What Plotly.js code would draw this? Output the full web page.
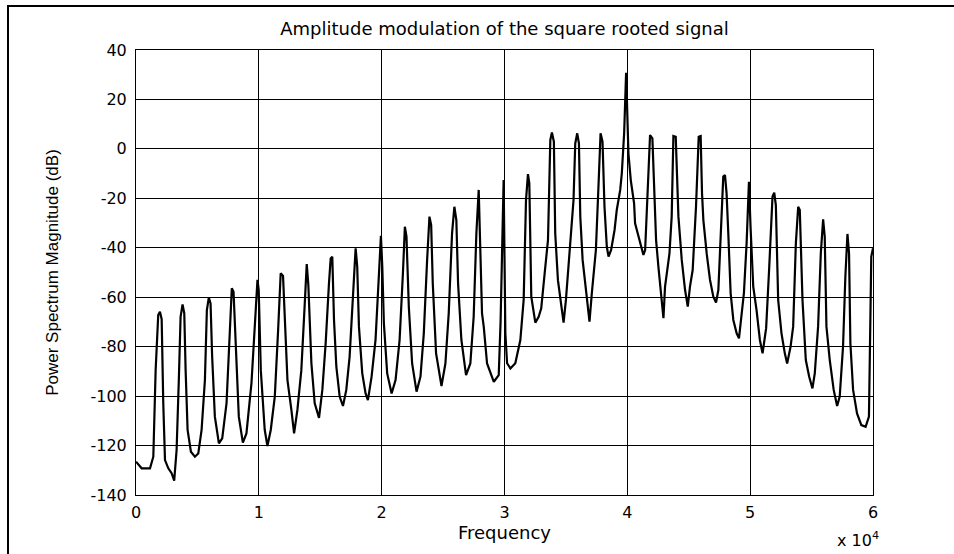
<!DOCTYPE html>
<html>
<head>
<meta charset="utf-8">
<script src="https://cdn.plot.ly/plotly-3.0.1.min.js"></script>
<style>
  html, body { margin: 0; padding: 0; background: #ffffff; }
  #frame { position: absolute; left: 7px; top: 5px; width: 960px; height: 560px;
           border-left: 2px solid #000; border-top: 2px solid #000; pointer-events: none; z-index: 5; }
  #chart { position: absolute; left: 0; top: 0; width: 954px; height: 554px; }
</style>
</head>
<body>
<div id="chart"></div>
<div id="frame"></div>
<script>
// Frequency samples (Hz)
const freq = [
  0, 460, 1140, 1410, 1600, 1810, 1950, 2090, 2220, 2360, 2630, 2900, 3110,
  3305, 3495, 3630, 3790, 3930, 4040, 4200, 4470, 4795, 5070,
  5340, 5610, 5770, 5930, 6070, 6200, 6420, 6750, 7020,
  7370, 7640, 7800, 7940, 8130, 8370, 8700, 8990,
  9400, 9670, 9890, 9990, 10160, 10480, 10700, 10970,
  11300, 11570, 11780, 11970, 12160, 12330, 12650, 12870, 13140,
  13460, 13740, 13900, 14030, 14280, 14550, 14900,
  15170, 15440, 15710, 15850, 15980, 16120, 16310, 16580, 16850, 17120,
  17390, 17660, 17880, 18010, 18150, 18420, 18690, 18880, 19180,
  19500, 19770, 19940, 20050, 20180, 20450, 20810, 21130,
  21460, 21730, 21890, 22020, 22210, 22480, 22840, 23160,
  23430, 23700, 23890, 24030, 24160, 24430, 24870, 25190,
  25460, 25730, 25920, 26080, 26220, 26490, 26870, 27220,
  27490, 27710, 27900, 28170, 28310, 28580, 29130, 29530,
  29680, 29930, 30070, 30210, 30480, 30880, 31290,
  31560, 31750, 31910, 32020, 32180, 32370, 32510, 32780, 32990,
  33270, 33540, 33730, 33860, 34020, 34130, 34350, 34620, 34810, 35000,
  35270, 35620, 35760, 35920, 36060, 36170, 36360, 36630, 36920, 37110,
  37440, 37660, 37820, 37980, 38140, 38330, 38470, 38680, 38960,
  39140, 39420, 39550, 39740, 39900, 40090, 40280, 40550, 40630, 40910, 41180, 41310, 41450,
  41580, 41720, 41850, 42040, 42180, 42340, 42530, 42720, 42940, 43070,
  43430, 43610, 43750, 43940, 44160, 44430, 44700, 44920, 45100, 45320,
  45590, 45810, 45970, 46080, 46190, 46460, 46730, 47000, 47220, 47410,
  47540, 47680, 47810, 47950, 48080, 48220, 48410, 48630, 48900, 49090, 49250,
  49490, 49710, 49900, 50030, 50250, 50520, 50790, 51010, 51300,
  51550, 51820, 51960, 52090, 52280, 52550, 52820, 53010, 53290,
  53500, 53720, 53910, 54040, 54260, 54530, 54800, 55070, 55260,
  55530, 55750, 55940, 56070, 56210, 56480, 56800, 57080, 57290,
  57560, 57750, 57920, 58050, 58160, 58380, 58700, 59050, 59400, 59670,
  59780, 59860, 60000
];
// Power spectrum magnitude (dB)
const magnitudeDb = [
  -126.5, -129.2, -129.2, -124.5, -89.4, -67.2, -65.9, -68.9, -102.9, -125.9, -129.2, -131.2, -134.2,
  -121.8, -92.1, -67.9, -62.9, -66.5, -89.5, -113.7, -122.5, -124.5, -123.2,
  -113.7, -93.5, -65.2, -60.1, -62.5, -84.1, -108.3, -119.1, -117.1,
  -102.9, -76.0, -56.4, -57.8, -80.0, -108.3, -118.8, -115.1,
  -94.8, -69.2, -53.0, -57.1, -89.5, -113.7, -120.2, -113.7,
  -100.2, -73.3, -50.3, -51.4, -76.0, -93.5, -105.6, -115.1, -105.6,
  -89.5, -62.5, -46.6, -55.0, -86.8, -102.9, -108.8,
  -97.5, -78.7, -54.4, -44.3, -43.6, -69.2, -88.1, -100.2, -104.0, -97.5,
  -84.1, -58.4, -40.2, -47.6, -71.9, -90.8, -98.9, -101.6, -92.1,
  -77.3, -47.6, -35.2, -47.6, -70.6, -90.8, -98.9, -93.5,
  -77.3, -50.3, -31.5, -35.5, -63.8, -86.8, -98.2, -92.1,
  -74.6, -44.9, -27.4, -30.8, -54.4, -82.7, -95.9, -86.8,
  -66.5, -34.2, -23.4, -28.8, -54.4, -77.3, -91.5, -86.8,
  -67.9, -34.2, -16.6, -66.5, -71.9, -86.8, -94.2, -91.5,
  -70.0, -12.6, -74.6, -86.7, -88.8, -86.7, -77.3,
  -61.1, -20.7, -10.2, -13.9, -59.8, -66.5, -70.3, -67.9, -64.5,
  -50.3, -36.9, 3.6, 6.6, 2.9, -34.2, -53.1, -62.5, -70.3, -61.1,
  -44.9, -20.7, 2.2, 6.3, 2.2, -27.4, -44.9, -58.4, -69.9, -58.4,
  -40.9, -13.9, 6.3, 2.9, -23.4, -39.6, -43.6, -40.9, -32.8,
  -24.7, -16.6, -9.9, 6.3, 30.8, -1.8, -12.6, -22.0, -30.1, -35.5, -41.6, -42.9, -40.9,
  -24.7, -4.5, 5.6, 4.3, -18.0, -36.9, -47.7, -58.4, -68.5, -55.7,
  -42.3, -27.4, 5.2, 4.9, -27.4, -44.9, -57.1, -63.8, -55.7, -49.0,
  -23.4, 4.9, 5.2, -18.0, -28.8, -42.3, -53.0, -59.8, -62.2, -57.1,
  -39.6, -20.7, -11.2, -10.6, -18.0, -34.2, -58.4, -69.2, -74.6, -76.6, -69.2,
  -58.4, -38.2, -13.3, -31.5, -55.7, -65.2, -77.3, -82.7, -72.5,
  -48.0, -19.3, -17.7, -22.7, -61.1, -74.6, -82.7, -86.8, -80.0,
  -71.9, -38.2, -23.4, -24.7, -61.1, -85.4, -92.1, -96.9, -90.8,
  -71.9, -42.3, -28.5, -35.5, -71.9, -85.4, -97.5, -104.0, -100.2,
  -80.0, -51.7, -34.4, -42.3, -78.7, -97.5, -107.0, -111.7, -112.4, -108.3,
  -71.9, -43.6, -40.2
];
const xTickVals = [0, 10000, 20000, 30000, 40000, 50000, 60000];
const xTickText = ['0', '1', '2', '3', '4', '5', '6'];
const yTickVals = [-140, -120, -100, -80, -60, -40, -20, 0, 20, 40];
const yTickText = ['-140', '-120', '-100', '-80', '-60', '-40', '-20', '0', '20', '40'];

const wideFont = '"DejaVu Sans", "Liberation Sans", Arial, sans-serif';
const narrowFont = '"Liberation Sans", Arial, sans-serif';

const trace = {
  x: freq,
  y: magnitudeDb,
  type: 'scatter',
  mode: 'lines',
  line: { color: '#000000', width: 2.2 },
  hoverinfo: 'x+y'
};

const axisCommon = {
  showgrid: true,
  gridcolor: '#000000',
  gridwidth: 1,
  zeroline: false,
  showline: true,
  linecolor: '#000000',
  linewidth: 1,
  mirror: 'ticks',
  ticks: 'inside',
  ticklen: 5,
  tickcolor: '#000000',
  tickfont: { family: wideFont, size: 16, color: '#000000' },
  automargin: false
};

const layout = {
  width: 954,
  height: 554,
  paper_bgcolor: '#ffffff',
  plot_bgcolor: '#ffffff',
  margin: { l: 136, r: 81, t: 50, b: 59 },
  showlegend: false,
  font: { family: wideFont, color: '#000000' },
  title: {
    text: 'Amplitude modulation of the square rooted signal',
    font: { family: wideFont, size: 18, color: '#000000' },
    x: 0.5, xref: 'paper', xanchor: 'center',
    y: 1 - 29 / 554, yref: 'container', yanchor: 'middle'
  },
  xaxis: Object.assign({}, axisCommon, {
    range: [0, 60000],
    tickmode: 'array',
    tickvals: xTickVals,
    ticktext: xTickText,
    ticklabelstandoff: 3,
    title: { text: 'Frequency', font: { family: wideFont, size: 18, color: '#000000' }, standoff: 1 }
  }),
  yaxis: Object.assign({}, axisCommon, {
    range: [-140, 40],
    tickmode: 'array',
    tickvals: yTickVals,
    ticktext: yTickText,
    ticklabelstandoff: 5,
    title: { text: 'Power Spectrum Magnitude (dB)', font: { family: narrowFont, size: 17, color: '#000000' }, standoff: 27 }
  }),
  annotations: [
    {
      text: 'x 10<sup>4</sup>',
      xref: 'paper', yref: 'paper',
      x: 1.011, y: -0.1,
      xanchor: 'right', yanchor: 'middle',
      showarrow: false,
      font: { family: wideFont, size: 16, color: '#000000' }
    }
  ]
};

Plotly.newPlot('chart', [trace], layout, { displayModeBar: false, staticPlot: true });
</script>
</body>
</html>
